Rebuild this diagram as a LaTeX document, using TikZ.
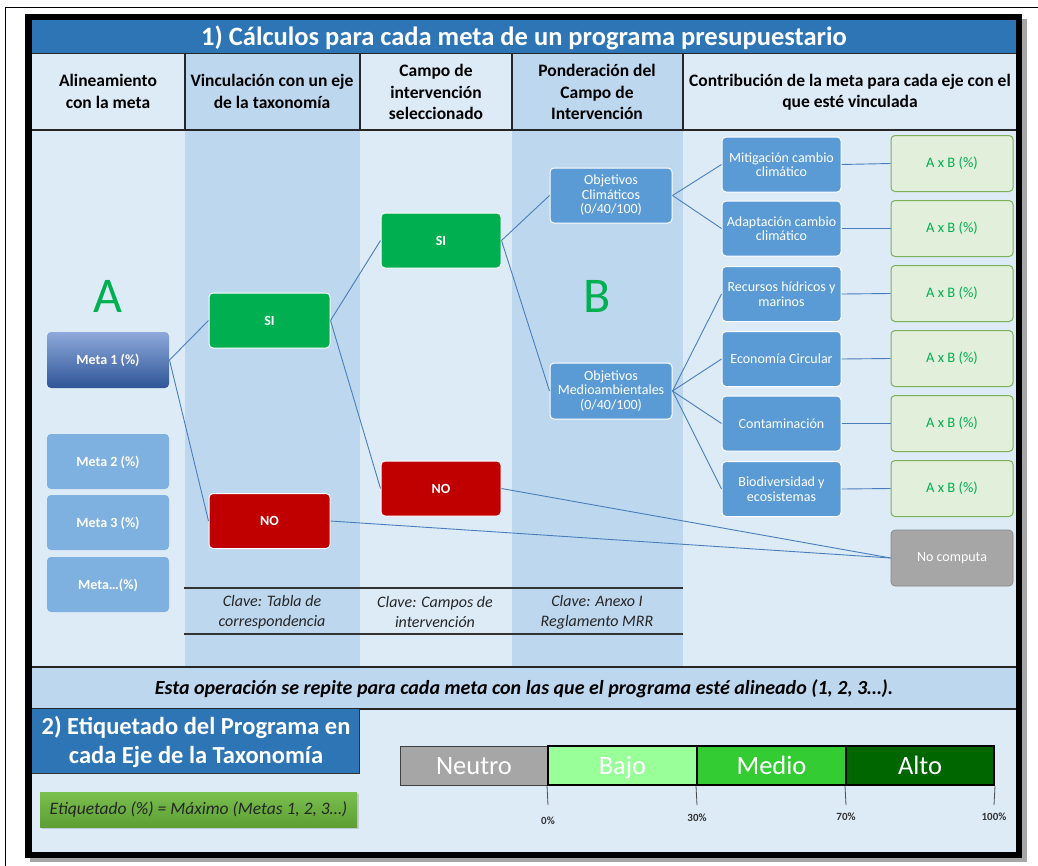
\documentclass[tikz,border=0pt]{standalone}
\usepackage{fontspec}
\setmainfont{Carlito}
\usetikzlibrary{shadows}
\definecolor{lightbg}{HTML}{DDEBF7}
\definecolor{darkbg}{HTML}{BDD7EE}
\definecolor{titleblue}{HTML}{2E75B6}
\definecolor{boxblue}{HTML}{5B9BD5}
\definecolor{metablue}{HTML}{7FB1E0}
\definecolor{metatop}{HTML}{8EA9DB}
\definecolor{metabot}{HTML}{2F5597}
\definecolor{sigreen}{HTML}{00B050}
\definecolor{nored}{HTML}{C00000}
\definecolor{resfill}{HTML}{E2EFDA}
\definecolor{resdraw}{HTML}{7DB05A}
\definecolor{nogrey}{HTML}{A6A6A6}
\definecolor{linkblue}{HTML}{4A7EBB}
\definecolor{bajog}{HTML}{99FF99}
\definecolor{mediog}{HTML}{33CC33}
\definecolor{altog}{HTML}{006600}
\definecolor{etiqtop}{HTML}{7AC04E}
\definecolor{etiqbot}{HTML}{5E9E34}
\begin{document}
\begin{tikzpicture}[x=1pt,y=-1pt,
  hdr/.style={font=\fontsize{17.5}{21.5}\selectfont\bfseries, align=center, text=black},
  clave/.style={font=\fontsize{16}{20}\selectfont\itshape, align=center, text=black!85},
  box/.style={rounded corners=4pt, draw=white, line width=1pt, text=white, align=center,
     font=\fontsize{14}{14.5}\selectfont, inner sep=1pt},
  boldbox/.style={box, font=\fontsize{14}{14.5}\selectfont\bfseries, text height=9pt, text depth=0pt},
  bluebox/.style={box, fill=boxblue, minimum width=119pt, minimum height=55pt},
  metabox/.style={boldbox, fill=metablue, minimum width=122pt, minimum height=55pt, draw=none},
  sibox/.style={boldbox, fill=sigreen, minimum width=121pt, minimum height=55pt},
  nobox/.style={boldbox, fill=nored, minimum width=121pt, minimum height=55pt},
  resbox/.style={rounded corners=4pt, draw=resdraw, line width=1pt, fill=resfill, text=sigreen,
     font=\fontsize{14.5}{15}\selectfont, minimum width=122pt, minimum height=56pt},
  link/.style={draw=linkblue, line width=0.9pt},
  scalebox/.style={minimum height=39pt, text=white, font=\fontsize{26.5}{28}\selectfont, inner sep=0pt,
     text height=17pt, text depth=0pt},
  tick/.style={font=\fontsize{11}{12}\selectfont\bfseries, text=black!80},
  bigletter/.style={font=\fontsize{50}{50}\selectfont, text=sigreen}
]
\useasboundingbox (0,0) rectangle (1038,865);
\fill[white] (0,0) rectangle (1038,865);
% thin outer frame
\draw[line width=0.8pt] (5.5,866) -- (5.5,7.5) -- (1039,7.5);
% shadow and thick frame
\fill[black!35] (30,19) rectangle (1027,862);
\fill[black] (25,14) rectangle (1022,858);
\fill[lightbg] (32,20) rectangle (1016,852);
% title band
\fill[titleblue] (32,20) rectangle (1016,53);
\node[font=\fontsize{26.5}{28}\selectfont\bfseries, text=white] (title) at (524,37.5)
  {1) Cálculos para cada meta de un programa presupuestario};
% column stripes
\fill[darkbg] (185,53) rectangle (360,667);
\fill[darkbg] (512,53) rectangle (683,667);
% header lines
\draw[line width=1.2pt, black!85] (32,53.5) -- (1016,53.5);
\draw[line width=2pt, black!85] (32,130) -- (1016,130);
\foreach \xx in {185,360,512,683} \draw[line width=1.5pt, black!85] (\xx,53.5) -- (\xx,130);
% header texts
\node[hdr] (h1) at (108,91.5) {Alineamiento\\con la meta};
\node[hdr] (h2) at (272,91.5) {Vinculación con un eje\\de la taxonomía};
\node[hdr] (h3) at (436,92) {Campo de\\intervención\\seleccionado};
\node[hdr] (h4) at (597,92) {Ponderación del\\Campo de\\Intervención};
\node[hdr] (h5) at (850,92) {Contribución de la meta para cada eje con el\\que esté vinculada};
% clave rows
\draw[line width=1.5pt, black!80] (184,588) -- (683,588);
\draw[line width=1.5pt, black!80] (184,634) -- (683,634);
\node[clave] (c1) at (272,612) {Clave: Tabla de\\correspondencia};
\node[clave] (c2) at (435,612) {Clave: Campos de\\intervención};
\node[clave] (c3) at (597,612) {Clave: Anexo I\\Reglamento MRR};
% band
\fill[darkbg] (32,667) rectangle (1016,709);
\draw[line width=2pt, black!85] (32,667) -- (1016,667);
\draw[line width=1.2pt, black!85] (32,709) -- (1016,709);
\node[font=\fontsize{20}{22}\selectfont\bfseries\itshape] (band) at (524,689)
  {Esta operación se repite para cada meta con las que el programa esté alineado (1, 2, 3…).};
% letters
\node[bigletter] (A) at (108,296) {A};
\node[bigletter] (B) at (597,296) {B};
% nodes column 1
\node[boldbox, draw=none, top color=metatop, bottom color=metabot,
  minimum width=122pt, minimum height=56pt] (meta1) at (108,360) {Meta 1 (\%)};
\node[metabox] (meta2) at (108,461.5) {Meta 2 (\%)};
\node[metabox] (meta3) at (108,522.5) {Meta 3 (\%)};
\node[metabox] (metaN) at (108,584.5) {Meta…(\%)};
% column 2
\node[sibox] (si2) at (269.5,320.5) {SI};
\node[nobox] (no2) at (269.5,521) {NO};
% column 3
\node[sibox, minimum width=120pt] (si3) at (441,240.5) {SI};
\node[nobox, minimum width=120pt] (no3) at (441,488.5) {NO};
% column 4
\node[bluebox, minimum width=122pt] (objc) at (611,195.5) {Objetivos\\Climáticos\\(0/40/100)};
\node[bluebox, minimum width=122pt, minimum height=56pt] (objm) at (611,391) {Objetivos\\Medioambientales\\(0/40/100)};
% column 5
\node[bluebox] (mit) at (781.5,164.5) {Mitigación cambio\\climático};
\node[bluebox] (adp) at (781.5,228.5) {Adaptación cambio\\climático};
\node[bluebox] (rec) at (781.5,294) {Recursos hídricos y\\marinos};
\node[bluebox] (eco) at (781.5,359) {Economía Circular};
\node[bluebox] (con) at (781.5,423.5) {Contaminación};
\node[bluebox] (bio) at (781.5,489) {Biodiversidad y\\ecosistemas};
\node[resbox] (r1) at (952,163.5) {A x B (\%)};
\node[resbox] (r2) at (952,228.5) {A x B (\%)};
\node[resbox] (r3) at (952,293.5) {A x B (\%)};
\node[resbox] (r4) at (952,358.5) {A x B (\%)};
\node[resbox] (r5) at (952,423.5) {A x B (\%)};
\node[resbox] (r6) at (952,488.5) {A x B (\%)};
\node[box, fill=nogrey, draw=nogrey!80!black, line width=0.6pt, minimum width=122pt, minimum height=56pt] (nocomp) at (952,558) {No computa};
% connectors
\draw[link] (meta1.east) -- (si2.west);
\draw[link] (meta1.east) -- (no2.west);
\draw[link] (si2.east) -- (si3.west);
\draw[link] (si2.east) -- (no3.west);
\draw[link] (si3.east) -- (objc.west);
\draw[link] (si3.east) -- (objm.west);
\draw[link] (objc.east) -- (mit.west);
\draw[link] (objc.east) -- (adp.west);
\draw[link] (objm.east) -- (rec.west);
\draw[link] (objm.east) -- (eco.west);
\draw[link] (objm.east) -- (con.west);
\draw[link] (objm.east) -- (bio.west);
\draw[link] (mit.east) -- (r1.west);
\draw[link] (adp.east) -- (r2.west);
\draw[link] (rec.east) -- (r3.west);
\draw[link] (eco.east) -- (r4.west);
\draw[link] (con.east) -- (r5.west);
\draw[link] (bio.east) -- (r6.west);
\draw[link] (no2.east) -- (nocomp.west);
\draw[link] (no3.east) -- (nocomp.west);
% section 2
\fill[titleblue] (32,709) rectangle (359,773);
\draw[line width=1pt, black!80] (359,709) -- (359,773) -- (32,773);
\node[font=\fontsize{24.5}{29}\selectfont\bfseries, text=white, align=center] (sec2) at (196,741.5)
  {2) Etiquetado del Programa en\\cada Eje de la Taxonomía};
\node[drop shadow={opacity=0.3, shadow xshift=1.5pt, shadow yshift=-1.5pt},
  top color=etiqtop, bottom color=etiqbot, minimum width=317pt, minimum height=35pt,
  font=\fontsize{17.5}{18}\selectfont\itshape, text=black!85, inner sep=0pt] (etiq) at (198.5,809.5)
  {Etiquetado (\%) = Máximo (Metas 1, 2, 3…)};
% scale
\node[scalebox, fill=nogrey, draw=black!75, line width=1pt, minimum width=148pt] (neutro) at (474,765.5) {Neutro};
\node[scalebox, fill=bajog, draw=black, line width=2pt, minimum width=149pt] (bajo) at (622.5,765.5) {Bajo};
\node[scalebox, fill=mediog, draw=black, line width=2pt, minimum width=149pt] (medio) at (771.5,765.5) {Medio};
\node[scalebox, fill=altog, draw=black, line width=2pt, minimum width=148pt] (alto) at (920,765.5) {Alto};
\coordinate (t0) at (548,805);
\coordinate (t30) at (697,805);
\coordinate (t70) at (846,805);
\coordinate (t100) at (994,805);
\draw[line width=0.8pt, black!70] (bajo.south west) -- (t0);
\draw[line width=0.8pt, black!70] (medio.south west) -- (t30);
\draw[line width=0.8pt, black!70] (alto.south west) -- (t70);
\draw[line width=0.8pt, black!70] (alto.south east) -- (t100);
\node[tick] (l0) at (548,821) {0\%};
\node[tick] (l30) at (697,818) {30\%};
\node[tick] (l70) at (846,817) {70\%};
\node[tick] (l100) at (994,817) {100\%};
\end{tikzpicture}
\end{document}
